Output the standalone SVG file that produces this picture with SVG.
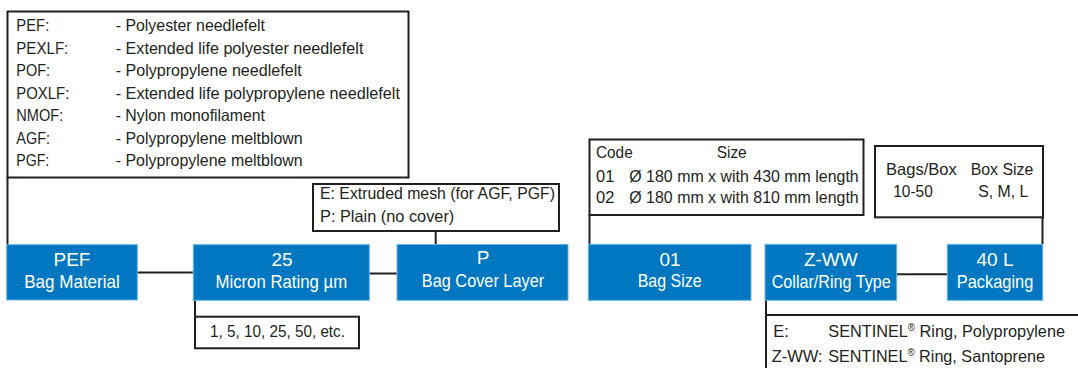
<svg xmlns="http://www.w3.org/2000/svg" width="1078" height="368" viewBox="0 0 1078 368">
<style>
.node rect{fill:#0077c0;stroke:#6ab6e8;stroke-width:1}
.node text{fill:#ffffff;font-family:"Liberation Sans Narrow","Liberation Sans",Arial,sans-serif;font-size:19px;text-anchor:middle}
.box rect{fill:#ffffff;stroke:#231f20;stroke-width:2}
.box text{fill:#231f20;font-family:"Liberation Sans Narrow","Liberation Sans",Arial,sans-serif;font-size:16.5px}
.conn path{fill:none;stroke:#231f20;stroke-width:2}
.sup{font-size:10px}
</style>
<rect x="0" y="0" width="1078" height="368" fill="#ffffff"/>

<g id="connectors" class="conn">
<path d="M7.5,177 V245"/>
<path d="M137,272.5 H193"/>
<path d="M369,273.5 H397"/>
<path d="M195,300 V317"/>
<path d="M435.7,231 V244"/>
<path d="M589.5,215 V244"/>
<path d="M1042.5,217 V244"/>
<path d="M897,274.3 H947"/>
<path d="M766,300 V368"/>
</g>

<g id="materials-box" class="box">
<rect x="7.5" y="11.5" width="401" height="166"/>
<text x="16.3" y="31.2" textLength="33" lengthAdjust="spacingAndGlyphs">PEF:</text>
<text x="16.3" y="53.6" textLength="52" lengthAdjust="spacingAndGlyphs">PEXLF:</text>
<text x="16.3" y="76" textLength="33.7" lengthAdjust="spacingAndGlyphs">POF:</text>
<text x="16.3" y="98.6" textLength="53" lengthAdjust="spacingAndGlyphs">POXLF:</text>
<text x="16.3" y="121.2" textLength="47" lengthAdjust="spacingAndGlyphs">NMOF:</text>
<text x="16.3" y="143.8" textLength="33.7" lengthAdjust="spacingAndGlyphs">AGF:</text>
<text x="16.3" y="166.4" textLength="33" lengthAdjust="spacingAndGlyphs">PGF:</text>
<text x="115.7" y="31.2" textLength="149.3" lengthAdjust="spacingAndGlyphs">- Polyester needlefelt</text>
<text x="115.7" y="53.6" textLength="247.7" lengthAdjust="spacingAndGlyphs">- Extended life polyester needlefelt</text>
<text x="115.7" y="76" textLength="186" lengthAdjust="spacingAndGlyphs">- Polypropylene needlefelt</text>
<text x="115.7" y="98.6" textLength="284.3" lengthAdjust="spacingAndGlyphs">- Extended life polypropylene needlefelt</text>
<text x="115.7" y="121.2" textLength="149.3" lengthAdjust="spacingAndGlyphs">- Nylon monofilament</text>
<text x="115.7" y="143.8" textLength="187" lengthAdjust="spacingAndGlyphs">- Polypropylene meltblown</text>
<text x="115.7" y="166.4" textLength="187" lengthAdjust="spacingAndGlyphs">- Polypropylene meltblown</text>
</g>

<g id="cover-box" class="box">
<rect x="313" y="184" width="246" height="47"/>
<text x="320" y="199.3" textLength="235" lengthAdjust="spacingAndGlyphs">E: Extruded mesh (for AGF, PGF)</text>
<text x="320" y="222.3" textLength="134.3" lengthAdjust="spacingAndGlyphs">P: Plain (no cover)</text>
</g>

<g id="size-box" class="box">
<rect x="589.5" y="139.5" width="274" height="75.5"/>
<text x="596" y="158.3" textLength="36.7" lengthAdjust="spacingAndGlyphs">Code</text>
<text x="716.7" y="158.3" textLength="30" lengthAdjust="spacingAndGlyphs">Size</text>
<text x="596" y="181.7">01</text>
<text x="629.3" y="181.7" textLength="229.4" lengthAdjust="spacingAndGlyphs">Ø 180 mm x with 430 mm length</text>
<text x="596" y="203.3">02</text>
<text x="629.3" y="203.3" textLength="229.4" lengthAdjust="spacingAndGlyphs">Ø 180 mm x with 810 mm length</text>
</g>

<g id="packaging-box" class="box">
<rect x="875" y="146" width="168" height="71.3"/>
<text x="886" y="175" textLength="70.7" lengthAdjust="spacingAndGlyphs">Bags/Box</text>
<text x="970.7" y="175" textLength="62.6" lengthAdjust="spacingAndGlyphs">Box Size</text>
<text x="893.3" y="196.7" textLength="39.4" lengthAdjust="spacingAndGlyphs">10-50</text>
<text x="978.3" y="196.7" textLength="50" lengthAdjust="spacingAndGlyphs">S, M, L</text>
</g>

<g id="micron-box" class="box">
<rect x="195" y="316.7" width="164" height="31.6"/>
<text x="210" y="337.3" textLength="135" lengthAdjust="spacingAndGlyphs">1, 5, 10, 25, 50, etc.</text>
</g>

<g id="ring-box" class="box">
<path d="M766,368 V315 H1080" fill="none" stroke="#231f20" stroke-width="2"/>
<text x="773.3" y="336.7">E:</text>
<text x="828.3" y="336.7" textLength="236.7" lengthAdjust="spacingAndGlyphs">SENTINEL<tspan class="sup" dy="-6">®</tspan><tspan dy="6"> Ring, Polypropylene</tspan></text>
<text x="771.7" y="361.7" textLength="51" lengthAdjust="spacingAndGlyphs">Z-WW:</text>
<text x="828.3" y="361.7" textLength="216.7" lengthAdjust="spacingAndGlyphs">SENTINEL<tspan class="sup" dy="-6">®</tspan><tspan dy="6"> Ring, Santoprene</tspan></text>
</g>

<g id="node-material" class="node">
<rect x="6.7" y="244.7" width="130.6" height="55.3"/>
<text x="72" y="266">PEF</text>
<text x="72" y="288" textLength="95.7" lengthAdjust="spacingAndGlyphs">Bag Material</text>
</g>

<g id="node-micron" class="node">
<rect x="193.3" y="244.7" width="176" height="55.6"/>
<text x="282" y="265.7">25</text>
<text x="281.3" y="288.3" textLength="131.7" lengthAdjust="spacingAndGlyphs">Micron Rating µm</text>
</g>

<g id="node-cover" class="node">
<rect x="397" y="244.5" width="171" height="55.8"/>
<text x="483" y="264.3">P</text>
<text x="483" y="287.3" textLength="122.3" lengthAdjust="spacingAndGlyphs">Bag Cover Layer</text>
</g>

<g id="node-size" class="node">
<rect x="588.3" y="244.3" width="162.7" height="56"/>
<text x="670" y="266">01</text>
<text x="669.7" y="287.3" textLength="64" lengthAdjust="spacingAndGlyphs">Bag Size</text>
</g>

<g id="node-ring" class="node">
<rect x="765" y="244.3" width="131.7" height="56"/>
<text x="830.8" y="265.7">Z-WW</text>
<text x="831.2" y="287.7" textLength="119" lengthAdjust="spacingAndGlyphs">Collar/Ring Type</text>
</g>

<g id="node-packaging" class="node">
<rect x="947.3" y="244.3" width="95.4" height="56"/>
<text x="995" y="265.7">40 L</text>
<text x="995" y="287.7" textLength="76.6" lengthAdjust="spacingAndGlyphs">Packaging</text>
</g>
</svg>
